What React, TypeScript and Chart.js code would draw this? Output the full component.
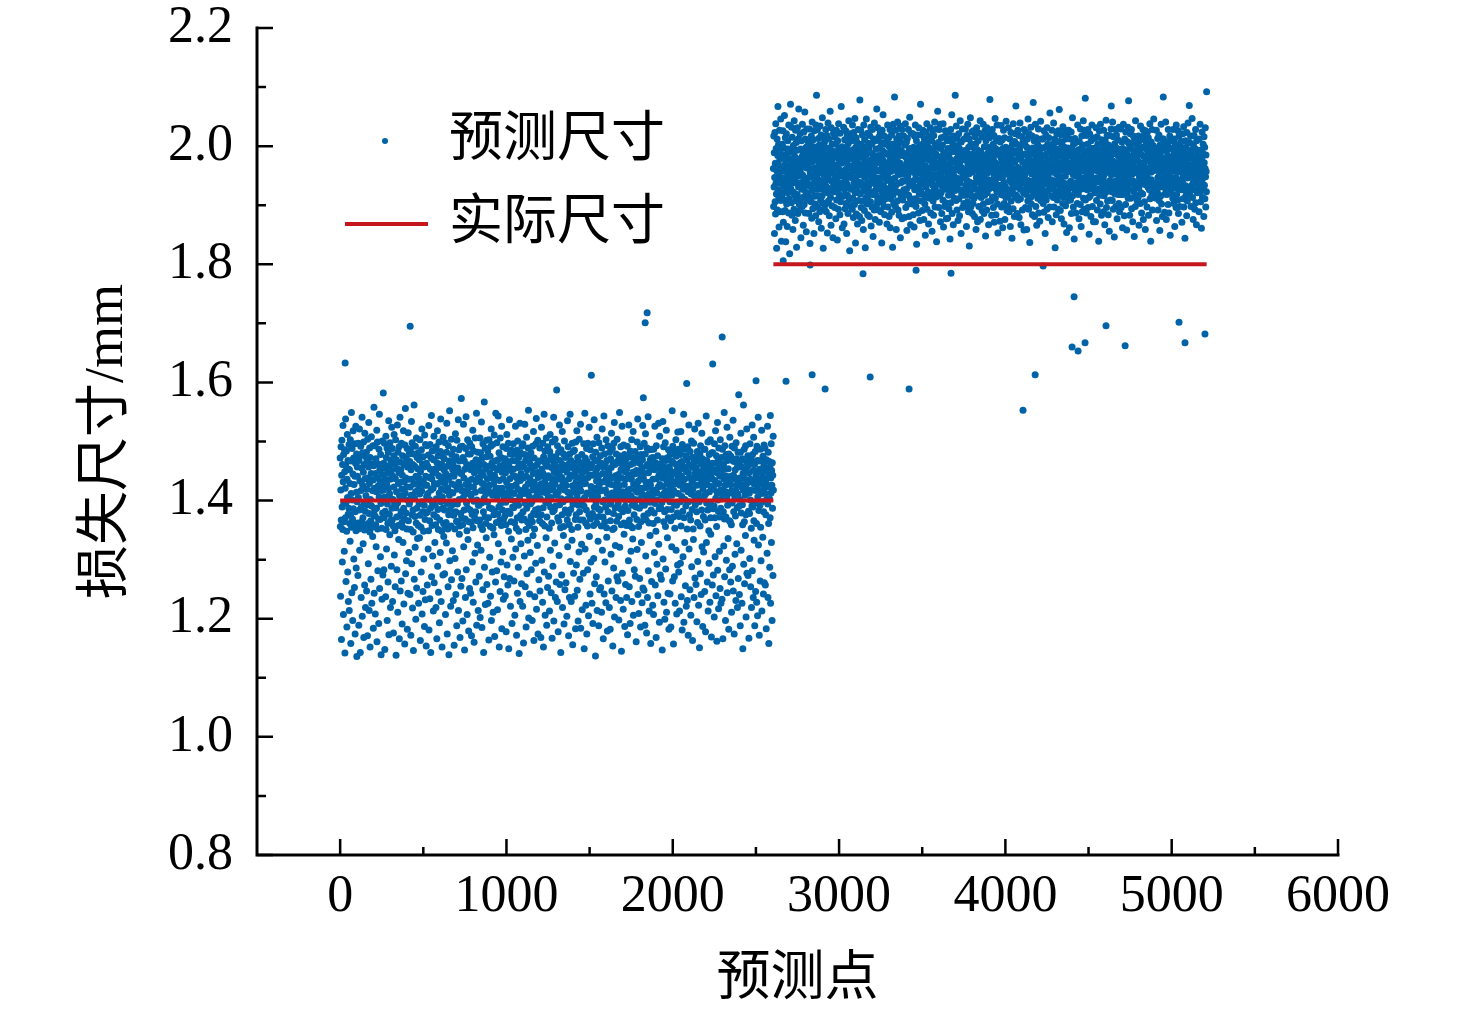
import { useEffect, useRef } from "react";
import { Chart, registerables } from "chart.js";

Chart.register(...registerables);

// Axis ticks
const X_TICKS = [0, 1000, 2000, 3000, 4000, 5000, 6000];
const X_MINOR = [500, 1500, 2500, 3500, 4500, 5500];
const Y_TICKS = [0.8, 1.0, 1.2, 1.4, 1.6, 1.8, 2.0, 2.2];
const Y_MINOR = [0.9, 1.1, 1.3, 1.5, 1.7, 1.9, 2.1];

// Actual size (reference lines)
const ACTUAL_1 = [
  { x: 0, y: 1.4 },
  { x: 2605, y: 1.4 },
];
const ACTUAL_2 = [
  { x: 2605, y: 1.8 },
  { x: 5210, y: 1.8 },
];

// Predicted sizes, segment 1 (points 0..2605): thousandths of mm above 1.000
const SEG1_BASE = 1.0;
const SEG1_RANGE = [0, 2605];
const SEG1 = [
  "472 356 238 418 491 367 165 443 502 389 296 461 351 527 432 207 478 395 364 314 486 449 142 421 371 538 459 263 397 484 348 186 436 512 405 279 468 377 229 453",
  "387 495 214 452 361 429 331 503 376 158 467 412 549 355 244 488 401 369 197 445 518 386 472 301 427 358 253 496 441 174 381 463 526 349 286 414 479 136 398 457",
  "441 362 273 497 405 352 189 468 384 521 316 433 476 143 359 492 417 236 389 455 364 541 204 481 426 371 327 448 499 168 395 461 350 257 514 437 382 219 474 408",
  "356 482 247 419 467 393 171 504 438 361 293 457 532 378 214 429 489 347 152 473 402 366 267 446 508 391 226 462 355 417 339 493 435 184 376 459 558 243 421 384",
  "493 374 208 446 359 471 322 415 387 519 161 438 499 352 281 462 425 369 192 487 406 546 251 452 368 433 305 478 395 139 417 461 353 233 501 444 379 274 426 582",
  "418 463 283 371 497 406 148 455 382 436 237 509 351 473 318 427 489 197 394 447 361 262 482 421 535 173 459 377 412 342 498 436 219 366 468 403 289 451 524 387",
  "367 488 229 441 402 357 176 476 423 512 308 394 461 349 254 437 503 388 138 469 415 372 283 454 528 396 211 482 358 429 334 447 491 166 408 374 541 247 465 431",
  "452 381 264 497 419 363 191 443 476 355 329 408 518 387 225 461 432 369 157 494 413 556 276 438 379 471 298 423 352 488 182 457 401 243 515 366 436 312 479 394",
  "397 466 241 423 487 351 172 452 409 534 293 376 498 436 218 461 384 347 146 479 428 562 267 404 458 373 321 492 415 199 441 362 506 252 387 473 429 336 454 418",
  "481 358 226 438 394 469 337 411 503 375 163 449 427 355 279 486 416 521 208 398 462 381 246 474 433 348 301 457 392 187 511 426 368 232 495 441 379 154 463 407",
  "426 493 257 381 458 412 318 477 349 527 181 439 402 366 234 495 453 387 143 418 472 544 271 437 358 484 396 306 447 421 213 469 376 509 261 429 453 329 392 486",
  "359 447 219 491 403 372 166 464 428 518 289 385 476 351 245 442 499 413 193 456 367 431 312 483 538 398 229 419 462 348 152 475 406 387 274 507 439 361 339 452",
  "471 384 276 429 356 498 207 446 417 363 328 482 531 395 174 458 421 352 254 493 436 376 139 467 409 552 298 441 385 461 221 414 357 504 266 478 428 393 315 452",
  "413 462 231 487 375 441 155 398 469 352 302 426 513 381 241 474 448 365 188 502 419 394 279 455 363 537 214 431 486 402 343 467 357 168 424 491 378 255 446 573",
  "446 371 268 416 492 359 196 473 405 529 322 438 384 467 147 453 411 369 236 488 427 542 283 396 461 349 207 418 503 387 334 479 433 179 364 455 412 251 497 424",
  "384 479 243 452 408 363 171 491 436 377 296 463 519 354 228 423 484 399 160 447 372 458 311 506 414 381 262 469 432 548 189 401 457 366 325 482 438 214 392 467",
  "458 392 272 435 367 506 202 449 481 358 316 417 533 396 185 472 429 351 249 496 443 381 143 461 404 567 287 426 372 489 224 453 411 361 337 474 502 258 419 437",
  "397 484 226 419 458 371 164 503 426 388 304 447 475 356 238 492 413 521 197 438 386 464 279 409 495 353 211 456 428 376 342 511 443 170 382 467 416 262 548 421",
  "436 363 281 498 407 452 215 377 469 543 327 421 389 481 152 434 458 367 246 506 412 395 296 473 358 526 183 448 421 384 313 491 437 233 369 462 405 271 454 413",
  "374 471 239 447 397 359 178 488 431 512 291 406 466 382 257 425 497 348 149 459 416 537 268 437 378 479 221 402 451 364 335 485 424 192 413 468 389 304 442 496",
  "453 388 264 412 479 362 206 441 399 526 318 467 427 353 172 485 438 371 243 501 419 456 287 392 473 348 141 462 406 531 229 434 481 375 327 446 413 259 367 492",
  "417 462 221 496 381 438 159 457 412 369 306 478 529 396 254 423 468 351 186 441 507 387 276 452 364 415 333 489 429 553 201 408 471 358 242 463 437 312 394 479",
  "481 373 283 427 455 398 197 364 492 418 341 446 517 379 163 472 431 352 237 458 405 384 294 496 423 539 216 447 376 461 324 412 502 174 439 386 467 266 421 448",
  "366 489 247 441 403 467 168 428 376 524 299 453 414 361 228 497 446 388 152 474 419 546 279 431 357 484 206 463 398 437 337 506 413 189 372 458 425 253 491 404",
  "442 396 272 468 417 353 213 483 439 512 316 389 476 405 244 456 362 428 167 499 437 381 289 418 471 541 196 449 384 463 328 427 504 236 391 474 410 262 446 587",
  "409 457 229 493 371 436 178 415 482 365 307 447 528 393 258 468 422 354 143 486 403 452 274 439 376 517 219 461 428 398 341 479 356 191 433 501 418 249 452 384",
  "473 381 261 426 459 402 204 448 367 535 322 414 491 378 171 462 437 359 236 479 411 546 297 443 385 468 229 402 456 351 333 497 425 156 394 441 483 277 418 463",
  "394 485 238 447 414 368 183 499 431 376 291 456 518 408 248 427 473 355 196 468 392 439 313 504 422 381 267 451 367 529 184 416 463 393 326 478 436 215 401 447",
  "428 367 277 459 496 391 149 436 405 548 318 472 429 362 223 451 384 488 174 413 466 357 283 497 439 412 205 458 376 524 339 443 411 242 486 369 455 296 424 612",
  "461 419 226 404 378 474 192 443 496 358 302 421 537 389 259 467 414 372 137 482 448 396 271 433 362 507 214 455 407 469 331 386 441 188 498 425 373 249 459 416",
  "384 476 253 431 463 357 211 489 417 521 316 446 398 372 166 457 432 543 242 401 479 364 296 462 418 389 227 503 437 354 338 468 412 179 447 493 381 264 428 452",
  "447 399 219 482 406 438 182 366 471 394 309 456 514 427 247 413 488 351 154 464 439 378 286 497 353 532 203 426 461 388 324 442 406 236 479 417 365 271 504 433",
  "418 467 264 395 444 373 198 476 425 549 321 408 463 386 231 491 452 359 145 438 407 526 277 469 381 415 216 457 494 362 343 427 478 187 402 449 391 258 436 461",
  "471 358 236 454 411 492 173 439 383 418 298 476 528 402 254 367 443 419 192 484 357 461 314 408 436 503 229 473 392 354 335 448 517 206 428 463 376 283 445 398",
  "402 483 272 418 467 389 161 451 427 368 317 499 414 538 241 476 433 356 209 446 402 387 268 463 421 491 186 437 364 478 329 412 455 227 396 469 527 252 421 574",
  "436 374 248 497 392 446 189 408 479 513 306 431 367 458 176 422 489 403 236 461 378 542 281 447 411 362 213 486 431 397 341 469 426 158 453 384 472 263 408 487",
  "458 416 223 436 473 361 207 487 402 379 312 452 526 395 257 418 464 348 168 493 437 413 292 401 367 476 239 455 423 531 326 443 386 194 509 427 461 274 389 446",
  "387 462 267 409 448 397 147 471 438 534 301 424 491 364 228 457 413 381 199 442 498 356 284 468 406 519 211 433 472 385 337 416 449 243 371 486 428 182 457 413",
  "453 398 242 478 421 366 186 439 385 467 322 409 552 431 264 492 446 372 157 417 463 395 271 484 353 428 226 449 413 503 316 475 392 208 433 458 379 291 516 441",
  "412 487 279 436 373 451 213 463 426 398 294 478 517 357 237 441 407 466 181 495 432 382 305 458 419 546 194 371 487 436 329 402 453 256 424 391 476 221 449 598",
  "469 352 231 424 491 415 172 447 398 528 318 461 376 439 249 483 424 367 206 458 411 501 288 432 385 473 163 419 456 352 334 497 437 236 408 466 521 269 446 393",
  "397 474 258 456 407 381 195 426 483 363 297 449 531 412 223 467 438 398 151 402 479 357 276 493 428 446 241 462 384 514 322 436 471 187 419 452 373 313 487 426",
  "432 408 246 487 367 459 178 441 412 543 329 396 468 427 262 451 384 499 213 436 461 349 294 478 415 393 228 457 503 371 343 424 446 169 392 481 437 257 463 631",
  "481 386 274 419 452 391 203 496 434 371 305 463 518 404 239 428 476 356 162 447 413 532 282 401 467 382 217 489 429 456 314 372 441 251 503 418 387 226 454 412",
  "446 473 233 403 487 418 166 459 381 462 323 437 549 369 271 493 426 453 197 415 372 478 299 441 406 524 244 468 392 431 336 454 413 182 479 438 366 283 507 427",
  "364 428 262 475 441 359 211 417 492 396 289 468 412 536 247 443 381 466 174 489 437 403 309 452 374 417 231 498 426 471 327 436 388 219 459 411 482 268 433 579",
  "457 391 241 438 466 402 188 482 427 514 316 379 457 423 226 471 393 359 149 446 418 562 292 423 487 364 259 437 409 453 341 493 376 203 428 465 521 277 412 448",
  "418 476 273 459 382 431 167 447 413 378 302 496 436 401 254 418 472 353 219 463 391 528 281 478 432 389 236 451 507 366 333 428 461 188 396 483 417 246 442 603",
  "436 361 228 492 419 468 205 406 449 541 325 427 383 467 172 453 416 392 264 487 355 436 298 412 468 519 213 446 398 427 338 475 437 242 381 459 494 261 421 466",
  "489 412 257 431 376 453 183 469 402 427 311 438 526 394 236 482 447 361 158 423 466 403 287 457 371 544 226 438 413 496 329 451 426 197 464 387 443 273 509 418",
];

// Predicted sizes, segment 2 (points 2605..5210): thousandths of mm above 1.500
const SEG2_BASE = 1.5;
const SEG2_RANGE = [2605, 5210];
const SEG2 = [
  "462 398 517 431 489 352 447 523 406 471 385 538 437 496 419 327 458 512 443 392 484 567 426 469 503 414 363 452 527 389 478 437 494 408 546 461 421 339 486 445",
  "417 503 446 389 526 458 371 484 432 497 409 552 468 423 391 514 447 338 476 438 521 402 459 487 364 433 509 421 495 452 387 536 466 411 479 318 444 492 428 571",
  "491 427 468 404 532 449 383 515 437 476 359 458 501 422 489 393 543 463 417 482 446 374 527 408 471 438 506 329 456 493 418 531 474 386 449 512 431 563 467 402",
  "436 478 392 521 457 411 495 345 468 438 509 427 482 398 537 451 413 487 366 466 524 443 401 493 431 558 474 387 512 446 421 498 355 463 529 409 484 437 471 416",
  "508 421 463 386 492 447 529 413 476 335 455 501 432 488 406 517 459 378 473 541 425 483 394 462 511 437 499 352 447 526 415 476 402 491 463 382 536 451 427 586",
  "447 493 416 528 461 397 484 438 513 372 469 427 502 455 389 534 442 481 408 459 519 361 476 433 497 416 548 463 404 488 327 452 515 426 471 395 507 438 482 459",
  "473 402 528 446 389 497 431 518 464 353 486 421 539 452 407 478 443 512 382 469 496 428 559 457 413 485 366 531 441 476 399 503 458 424 491 345 467 522 436 489",
  "423 484 451 396 515 468 432 503 377 491 444 527 409 463 486 341 452 509 426 479 393 538 461 418 497 437 474 384 522 449 406 488 458 567 433 471 415 499 362 456",
  "496 437 478 415 532 449 368 487 426 511 459 394 474 443 526 403 461 497 352 485 436 519 417 468 386 504 452 431 543 478 409 492 323 463 521 428 481 447 398 512",
  "451 509 427 482 393 536 466 412 494 379 457 523 438 487 401 472 547 421 463 336 498 446 514 385 479 432 506 457 368 489 423 528 471 408 454 497 439 381 466 578",
  "487 419 462 527 438 396 503 451 374 481 433 519 468 407 492 359 456 536 424 478 391 511 447 463 328 498 431 484 413 546 459 402 491 437 522 384 473 449 416 505",
  "432 496 455 381 518 467 423 489 406 532 449 365 477 441 503 397 462 528 418 486 347 455 512 437 473 392 539 468 424 481 376 509 446 417 495 458 431 563 402 476",
  "479 408 531 446 392 484 459 516 427 371 497 438 472 523 412 458 389 506 447 481 336 464 527 421 492 405 553 476 433 468 398 517 452 384 489 426 503 462 411 447",
  "416 487 442 509 368 471 428 536 453 397 486 419 514 467 381 499 443 426 528 362 478 457 411 492 436 519 388 466 503 444 329 481 417 537 459 403 472 496 427 583",
  "503 446 471 398 527 434 488 359 462 512 423 479 407 541 456 392 498 437 466 517 383 452 489 421 534 471 345 507 438 463 413 492 456 528 377 484 441 409 517 462",
  "441 517 426 486 453 379 502 467 418 538 441 396 481 462 507 428 357 474 513 446 489 402 452 528 417 476 381 496 437 549 469 412 483 367 458 522 433 491 406 471",
  "468 402 493 436 521 384 457 498 442 363 478 517 426 469 411 536 452 487 398 463 509 334 484 431 519 455 408 476 492 387 443 531 466 419 501 455 374 488 436 571",
  "425 483 458 519 407 472 436 391 503 448 527 418 462 494 376 481 438 512 453 402 486 349 467 524 431 497 413 459 538 393 478 442 506 461 423 484 368 517 449 495",
  "497 438 412 476 531 452 387 489 463 418 509 441 356 472 527 434 493 407 462 383 518 446 479 426 541 468 397 503 432 487 452 414 529 338 471 446 498 423 559 466",
  "452 506 437 463 396 528 471 417 482 443 537 372 496 458 421 514 449 386 477 432 502 461 409 538 443 363 489 427 472 516 398 458 483 431 526 404 467 489 377 441",
  "481 427 509 443 378 496 452 523 417 468 394 487 439 512 456 343 478 431 528 404 463 497 419 553 448 386 506 473 429 491 367 452 517 438 474 412 498 461 425 586",
  "437 491 462 408 534 446 479 392 513 428 468 501 374 487 443 521 411 459 496 382 472 438 543 426 489 457 352 507 464 419 483 447 529 396 461 492 417 478 448 403",
  "512 446 426 487 461 398 529 434 476 417 493 364 455 518 442 481 406 537 469 427 389 498 453 512 331 473 439 486 422 548 461 397 504 437 478 415 524 456 386 469",
  "458 403 487 526 433 469 412 497 381 459 516 438 473 427 504 359 482 447 531 416 463 494 372 478 441 509 426 468 398 522 452 485 418 457 543 376 491 436 469 413",
  "423 478 443 391 516 457 484 429 537 402 471 448 386 499 463 417 526 439 482 348 461 509 433 476 392 531 454 421 488 469 406 517 443 367 479 498 428 462 514 579",
  "489 436 521 468 407 478 442 383 492 457 528 414 467 441 503 396 476 452 518 371 485 429 463 547 412 496 437 384 471 509 448 423 536 461 402 487 353 448 493 427",
  "447 513 459 426 488 373 462 507 434 481 418 535 453 397 473 428 511 446 362 496 468 417 527 482 438 403 459 514 376 489 432 471 498 413 542 457 426 484 391 461",
  "471 398 483 452 531 417 466 493 389 478 442 512 426 364 497 451 523 407 469 438 486 344 457 503 428 476 394 538 461 419 492 447 381 508 436 473 521 413 457 568",
  "436 489 417 503 457 386 492 431 527 464 409 481 446 518 379 462 493 428 539 456 411 478 367 501 437 484 426 459 516 392 473 437 508 449 421 486 358 528 463 442",
  "503 452 471 396 524 439 487 418 463 359 498 431 512 476 407 546 442 483 393 467 521 426 458 337 494 438 476 413 532 461 402 489 453 428 517 384 469 497 441 574",
  "418 474 433 509 452 381 486 463 421 537 447 398 479 514 436 366 492 459 427 503 412 468 441 529 387 476 453 419 498 373 462 487 436 542 408 481 447 512 423 457",
  "466 427 497 448 512 403 469 441 388 526 457 483 416 472 352 498 436 519 462 409 487 443 393 531 468 424 503 451 379 476 437 514 458 427 489 397 556 472 436 493",
  "491 443 462 416 479 527 438 372 503 456 429 488 413 539 467 397 484 441 512 458 328 496 423 468 507 384 477 452 521 436 409 492 463 441 526 393 458 484 417 562",
  "427 508 446 483 391 462 497 431 519 377 472 448 506 426 489 403 533 459 414 481 437 368 498 461 527 422 483 449 399 512 466 436 488 354 473 518 429 462 497 408",
  "483 419 527 457 428 496 362 471 438 512 463 409 487 441 524 386 458 497 433 469 548 416 481 452 397 503 437 476 343 491 429 513 458 422 468 506 387 449 484 433",
  "454 486 403 472 536 439 461 418 494 449 377 508 468 426 483 457 401 529 442 478 364 496 433 517 458 389 471 502 428 463 543 412 487 446 393 527 461 437 478 581",
  "409 467 492 434 387 518 453 479 426 503 442 528 396 471 458 413 489 351 464 521 437 482 416 497 453 381 509 446 474 428 536 462 398 487 431 514 469 372 441 496",
  "476 438 459 513 421 484 372 497 446 531 463 408 477 439 516 392 468 503 427 457 488 339 472 441 526 417 484 459 402 537 449 426 493 468 383 511 437 479 452 417",
  "432 501 447 389 527 463 416 488 453 367 472 509 436 481 422 544 457 396 493 438 518 461 407 476 433 384 502 468 427 491 356 463 518 442 471 409 486 453 529 568",
  "497 423 476 452 408 541 437 468 393 516 458 429 487 346 473 504 419 462 528 441 398 487 453 519 426 468 377 496 437 511 452 418 483 467 403 532 446 389 473 436",
  "459 487 418 529 461 396 483 442 507 429 473 362 496 451 418 537 469 433 488 382 457 512 426 478 446 401 524 463 437 493 358 471 508 419 486 447 532 412 464 577",
  "427 469 503 441 383 478 456 521 437 412 496 467 528 394 452 483 438 506 372 469 441 517 458 423 489 347 476 507 432 461 398 543 455 417 492 436 479 463 408 501",
  "488 438 462 413 517 474 429 366 492 447 509 436 471 403 534 458 421 486 449 387 512 462 437 498 419 528 452 376 483 441 467 519 406 473 435 496 359 457 526 449",
  "441 506 452 477 397 523 446 488 431 462 514 383 479 438 497 426 461 538 411 473 492 339 456 507 443 484 417 469 528 392 458 436 501 427 478 546 413 466 489 423",
  "468 423 497 436 481 412 459 527 374 493 438 466 421 513 447 392 488 461 433 519 408 476 451 357 502 431 484 459 416 537 466 402 493 447 468 381 512 438 479 583",
  "512 457 431 503 443 388 476 419 496 462 541 427 469 376 491 452 418 507 436 483 456 401 528 442 471 387 498 453 426 517 464 349 482 437 509 421 474 496 443 458",
  "436 481 467 412 528 446 493 439 403 487 458 512 364 473 429 503 447 481 396 536 462 418 474 497 433 462 409 526 456 386 489 443 517 428 471 398 503 467 437 491",
  "479 442 508 457 426 371 497 463 438 521 411 482 449 533 397 468 427 491 452 344 476 509 433 463 417 498 471 382 523 446 407 487 461 539 427 453 481 416 468 569",
  "447 506 423 486 462 517 432 398 479 451 493 428 547 466 413 484 437 376 502 458 426 518 447 471 393 496 439 463 528 404 482 451 367 509 443 476 421 492 457 436",
  "493 428 471 446 389 512 457 481 421 537 443 467 406 493 452 361 478 439 524 467 413 488 446 503 427 459 381 516 472 434 498 411 462 531 448 397 485 457 423 592",
];

// Isolated predicted points read individually
const OUTLIER_X = [30, 421, 1834, 1846, 2297, 2664, 2681, 2826, 2838, 2916, 3144, 3187, 3421, 3463, 3673, 4106, 4179, 4227, 4401, 4413, 4437, 4479, 4605, 4720, 5044, 5080, 5200];
const OUTLIER_Y = [1.633, 1.695, 1.701, 1.718, 1.677, 1.806, 1.602, 1.799, 1.613, 1.589, 1.784, 1.609, 1.589, 1.79, 1.785, 1.553, 1.613, 1.797, 1.66, 1.745, 1.653, 1.667, 1.696, 1.662, 1.702, 1.667, 1.682];

const BLUE = "#0063a8";
const RED = "#c4161c";
const SERIF = "'Liberation Serif', 'Times New Roman', serif";
const CJK = "'Liberation Serif', 'Noto Sans CJK SC', sans-serif";

function decode(lines: string[], base: number, range: number[]) {
  const codes = lines.join(" ").trim().split(/\s+/).map(Number);
  const n = codes.length;
  return codes.map((c, i) => ({
    x: range[0] + (i * (range[1] - range[0])) / (n - 1),
    y: base + c / 1000,
  }));
}

const axesPlugin = {
  id: "axesPlugin",
  afterDraw(chart: any) {
    const { ctx, chartArea, scales } = chart;
    const xs = scales.x;
    const ys = scales.y;
    ctx.save();
    ctx.strokeStyle = "#000";
    ctx.lineWidth = 3;
    ctx.lineCap = "butt";
    const left = chartArea.left;
    const bottom = chartArea.bottom;
    ctx.beginPath();
    ctx.moveTo(left, chartArea.top - 1.5);
    ctx.lineTo(left, bottom);
    ctx.lineTo(chartArea.right + 1.5, bottom);
    ctx.stroke();
    ctx.lineWidth = 2.5;
    ctx.beginPath();
    X_TICKS.forEach((v) => {
      const px = xs.getPixelForValue(v);
      ctx.moveTo(px, bottom);
      ctx.lineTo(px, bottom - 16);
    });
    X_MINOR.forEach((v) => {
      const px = xs.getPixelForValue(v);
      ctx.moveTo(px, bottom);
      ctx.lineTo(px, bottom - 8);
    });
    Y_TICKS.forEach((v) => {
      const py = ys.getPixelForValue(v);
      ctx.moveTo(left, py);
      ctx.lineTo(left + 16, py);
    });
    Y_MINOR.forEach((v) => {
      const py = ys.getPixelForValue(v);
      ctx.moveTo(left, py);
      ctx.lineTo(left + 9, py);
    });
    ctx.stroke();

    // legend
    const lx = chartArea.left;
    const ly = chartArea.top;
    ctx.fillStyle = BLUE;
    ctx.beginPath();
    ctx.arc(lx + 128, ly + 113, 3, 0, Math.PI * 2);
    ctx.fill();
    ctx.strokeStyle = RED;
    ctx.lineWidth = 4;
    ctx.beginPath();
    ctx.moveTo(lx + 88, ly + 196);
    ctx.lineTo(lx + 171, ly + 196);
    ctx.stroke();
    ctx.fillStyle = "#000";
    ctx.font = "54px " + CJK;
    ctx.textAlign = "left";
    ctx.textBaseline = "middle";
    ctx.fillText("预测尺寸", lx + 192, ly + 114);
    ctx.fillText("实际尺寸", lx + 192, ly + 197);
    ctx.restore();
  },
};

export default function App() {
  const ref = useRef<HTMLCanvasElement>(null);
  useEffect(() => {
    document.body.style.margin = "0";
    const points = [
      ...decode(SEG1, SEG1_BASE, SEG1_RANGE),
      ...decode(SEG2, SEG2_BASE, SEG2_RANGE),
      ...OUTLIER_X.map((x, i) => ({ x, y: OUTLIER_Y[i] })),
    ];
    const chart = new Chart(ref.current as HTMLCanvasElement, {
      type: "scatter",
      data: {
        datasets: [
          {
            label: "实际尺寸",
            data: ACTUAL_1,
            showLine: true,
            borderColor: RED,
            borderWidth: 4,
            pointRadius: 0,
            order: 0,
          },
          {
            label: "实际尺寸 ",
            data: ACTUAL_2,
            showLine: true,
            borderColor: RED,
            borderWidth: 4,
            pointRadius: 0,
            order: 0,
          },
          {
            label: "预测尺寸",
            data: points,
            pointRadius: 3.5,
            pointBorderWidth: 0,
            backgroundColor: BLUE,
            borderColor: BLUE,
            order: 1,
          },
        ],
      },
      options: {
        responsive: false,
        animation: false,
        devicePixelRatio: 1,
        layout: { padding: { top: 28, right: 138, left: 0, bottom: 0 } },
        plugins: { legend: { display: false }, tooltip: { enabled: false } },
        scales: {
          x: {
            type: "linear",
            min: -500,
            max: 6000,
            grid: { display: false, drawTicks: false },
            border: { display: false },
            afterBuildTicks: (s: any) => {
              s.ticks = X_TICKS.map((v) => ({ value: v }));
            },
            afterFit: (s: any) => {
              s.height = 154;
              s.paddingLeft = 0;
              s.paddingRight = 0;
              s.paddingTop = 0;
              s.paddingBottom = 0;
            },
            ticks: {
              color: "#000",
              font: { family: SERIF, size: 52, lineHeight: 1 },
              padding: 16,
              maxRotation: 0,
              autoSkip: false,
              callback: (v: any) => String(v),
            },
            title: {
              display: true,
              text: "预测点",
              color: "#000",
              font: { family: CJK, size: 54, lineHeight: 1.0 },
              padding: { top: 0, bottom: 1 },
            },
          },
          y: {
            type: "linear",
            min: 0.8,
            max: 2.2,
            grid: { display: false, drawTicks: false },
            border: { display: false },
            afterBuildTicks: (s: any) => {
              s.ticks = Y_TICKS.map((v) => ({ value: v }));
            },
            afterFit: (s: any) => {
              s.width = 257;
              s.paddingLeft = 0;
              s.paddingRight = 0;
              s.paddingTop = 0;
              s.paddingBottom = 0;
            },
            ticks: {
              color: "#000",
              font: { family: SERIF, size: 52, lineHeight: 1 },
              padding: 24,
              callback: (v: any) => Number(v).toFixed(1),
            },
            title: {
              display: true,
              text: "损失尺寸/mm",
              color: "#000",
              font: { family: CJK, size: 54, lineHeight: 1.2 },
              padding: { top: 75, bottom: 0 },
            },
          },
        },
      },
      plugins: [axesPlugin],
    });
    return () => chart.destroy();
  }, []);
  return (
    <div style={{ width: 1476, height: 1009, background: "#fff" }}>
      <canvas ref={ref} width={1476} height={1009} style={{ width: 1476, height: 1009, display: "block" }} />
    </div>
  );
}
